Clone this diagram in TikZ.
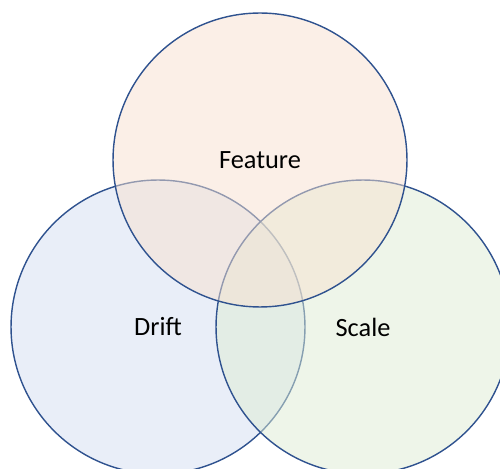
\documentclass[tikz,border=0pt]{standalone}
\usepackage{fontspec}
\setmainfont{Carlito}
\usepackage{tikz}
\usepackage{xcolor}
\definecolor{vblue}{RGB}{47,82,143}
\definecolor{vdrift}{RGB}{211,222,242}
\definecolor{vscale}{RGB}{222,236,211}
\definecolor{vfeature}{RGB}{247,224,207}

\begin{document}
\begin{tikzpicture}[x=0.02cm,y=-0.02cm]
\tikzstyle{setCircle} = [
  shape=circle,
  minimum size=5.88cm,
  inner sep=0pt,
  draw=vblue,
  line width=0.8pt,
  fill opacity=0.5,
  text opacity=1,
  font=\fontsize{15}{18}\selectfont
]

\useasboundingbox (0,0) rectangle (500,469);
\clip (0,0) rectangle (500,469);

\node[setCircle, fill=vdrift] (drift) at (158,327) {Drift};
\node[setCircle, fill=vscale] (scale) at (363,327) {Scale};
\node[setCircle, fill=vfeature] (feature) at (260,160) {Feature};

\end{tikzpicture}
\end{document}
